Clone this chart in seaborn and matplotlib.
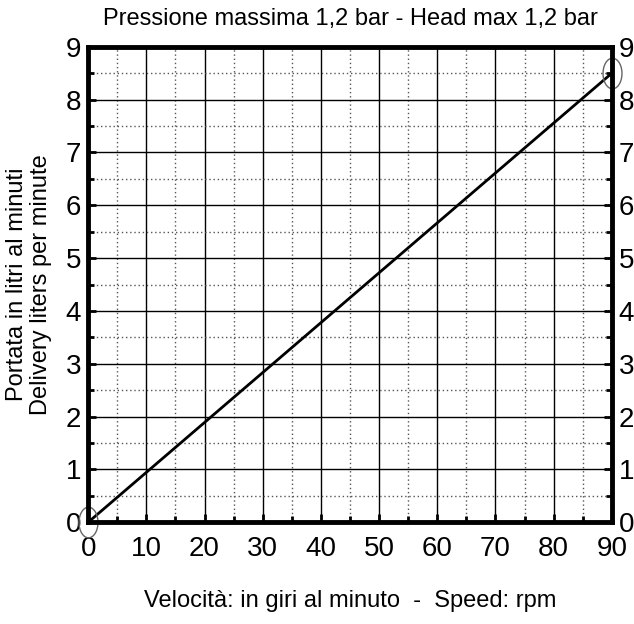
import numpy as np
import pandas as pd
import seaborn as sns
import matplotlib.pyplot as plt
from matplotlib.ticker import MultipleLocator
from matplotlib.path import Path

# Data
speed_rpm = [0, 90]
delivery_lpm = [0, 8.5]
x_ticks = [0, 10, 20, 30, 40, 50, 60, 70, 80, 90]
y_ticks = [0, 1, 2, 3, 4, 5, 6, 7, 8, 9]

df = pd.DataFrame({'speed': speed_rpm, 'delivery': delivery_lpm})

sns.set_theme(style="white", rc={'text.color': 'black', 'axes.labelcolor': 'black',
                                 'xtick.color': 'black', 'ytick.color': 'black'})
plt.rcParams['font.family'] = ['Liberation Sans Narrow', 'Liberation Sans', 'DejaVu Sans']

fig = plt.figure(figsize=(6.34, 6.24), dpi=100)
ax = fig.add_axes([0.139, 0.163, 0.826, 0.762])

# tall open ellipse marker
t = np.linspace(0, 2 * np.pi, 60)
ellipse = Path(np.column_stack([0.62 * np.cos(t), np.sin(t)]), closed=True)

sns.lineplot(data=df, x='speed', y='delivery', ax=ax, color='black', linewidth=2,
             marker=ellipse, markersize=22, markerfacecolor='none',
             markeredgecolor='#666666', markeredgewidth=1, clip_on=False)

ax.set_xlim(0, 90)
ax.set_ylim(0, 9)
ax.set_xticks(x_ticks)
ax.set_yticks(y_ticks)
ax.xaxis.set_minor_locator(MultipleLocator(5))
ax.yaxis.set_minor_locator(MultipleLocator(0.5))

ax.grid(which='major', color='black', linewidth=1, linestyle='-')
ax.grid(which='minor', color='#555555', linewidth=1, linestyle=(0, (1, 2)))
ax.set_axisbelow(True)

for s in ax.spines.values():
    s.set_visible(True)
    s.set_color('black')
    s.set_linewidth(3.5)

ax.tick_params(which='both', direction='in', colors='black', labelcolor='black',
               right=True, labelright=True, bottom=True, left=True, labelsize=20)
ax.tick_params(axis='x', which='major', pad=10)
ax.tick_params(axis='y', which='major', pad=5)
ax.tick_params(which='major', length=6, width=2)
ax.tick_params(which='minor', length=4, width=2)

ax.set_xlabel('Velocità: in giri al minuto  -  Speed: rpm', fontsize=17, labelpad=20,
              color='black')
ax.set_ylabel('Portata in litri al minuti\nDelivery liters per minute', fontsize=17,
              labelpad=10, linespacing=1.1, color='black')
ax.set_title('Pressione massima 1,2 bar - Head max 1,2 bar', fontsize=17, pad=16,
             color='black')

fig.savefig('out.png', dpi=100)
